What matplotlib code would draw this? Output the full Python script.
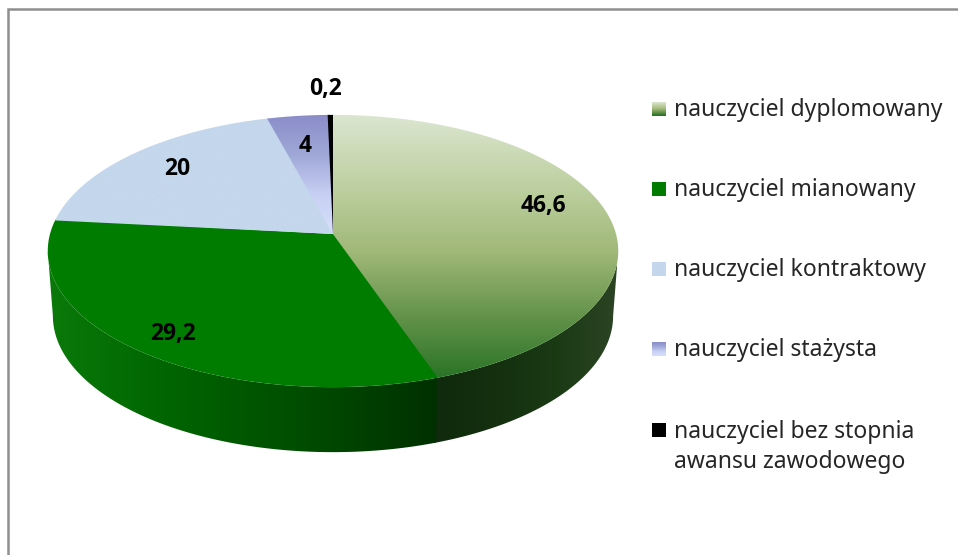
import numpy as np
import matplotlib
matplotlib.use('Agg')
import matplotlib.pyplot as plt
from matplotlib.colors import LinearSegmentedColormap
from matplotlib.patches import Polygon

categories = ['nauczyciel dyplomowany', 'nauczyciel mianowany', 'nauczyciel kontraktowy',
              'nauczyciel stażysta', 'nauczyciel bez stopnia\nawansu zawodowego']
values = [46.6, 29.2, 20, 4, 0.2]
value_labels = ['46,6', '29,2', '20', '4', '0,2']

# look of the picture
label_pos = [(543, 206), (173, 334), (177, 169), (305, 146), (326, 89)]
legend_y = [109, 189, 269, 349, 430]
# the 3d view of the original pulls the slice edges a little off their true angle
edge_skew = [-6.8, 3, 0, -0.5, 0]
top_colors = [['#dbe6d0', '#bfd1a3', '#a0b878', '#5f9048', '#1f6e1f'],
              ['#007c00', '#007c00'],
              ['#c4d7ec', '#c4d7ec'],
              ['#8a8cc8', '#a0a8d8', '#c8d0f4', '#d8e0fc'],
              ['#000000', '#000000']]
top_extent = [(40, 625, 390, 114), (40, 625, 390, 114), (40, 625, 236, 114),
              (40, 625, 236, 114), (40, 625, 236, 114)]
side_colors = [['#0f2a0c', '#14300f', '#1a3a14', '#2c4424'],
               ['#0a7a0a', '#006400', '#004c00', '#003000'],
               ['#c4d7ec', '#c4d7ec'],
               ['#8a8cc8', '#8a8cc8'],
               ['#000000', '#000000']]
CX, CY = 333, 234
SX, AY, P = 283, 134, 0.125
DEPTH = 65


def project(theta, drop=False):
    t = np.radians(theta)
    u, v = np.sin(t), np.cos(t)
    w = 1 + P * v
    x = SX * u / w
    y = -AY * v / w
    if drop:
        return CX + 0.982 * x, CY + y + DEPTH
    return CX + x, CY + y


def gradient(ax, colors, clip, extent, horizontal=False):
    cmap = LinearSegmentedColormap.from_list('g', colors)
    ramp = np.linspace(0, 1, 256)
    ramp = ramp[None, :] if horizontal else ramp[:, None]
    im = ax.imshow(ramp, cmap=cmap, extent=extent, aspect='auto', vmin=0, vmax=1,
                   interpolation='bilinear', zorder=2)
    if clip is not None:
        patch = Polygon(clip, closed=True, transform=ax.transData, fc='none', ec='none')
        ax.add_patch(patch)
        im.set_clip_path(patch)


fig = plt.figure(figsize=(9.58, 5.55), dpi=100)
ax = fig.add_axes([0, 0, 1, 1])

# slice edges from the values
cum = np.cumsum(values) / np.sum(values) * 360
edges = np.concatenate([[0], cum + np.array(edge_skew)])

# rim first, the tops go over it. only the part between the two widest points shows
widest = np.degrees(np.arccos(-P))
for i in range(2):
    # a small overlap so no white seam shows between neighbours
    a = max(edges[i], widest)
    b = min(edges[i + 1] + 1, 360 - widest)
    th = np.linspace(a, b, 200)
    x0, y0 = project(th)
    x1, y1 = project(th, drop=True)
    poly = np.r_[np.c_[x0, y0], np.c_[x1, y1][::-1]]
    left, right = (437, 617) if i == 0 else (48, 437)
    gradient(ax, side_colors[i], poly, (left - 3, right, 460, 100), horizontal=True)

for i in range(len(values)):
    end = edges[i + 1] + (0.5 if i < len(values) - 1 else 0)
    th = np.linspace(edges[i], end, 200)
    x0, y0 = project(th)
    poly = np.r_[[[CX, CY]], np.c_[x0, y0]]
    gradient(ax, top_colors[i], poly, top_extent[i])

for pos, text in zip(label_pos, value_labels):
    ax.text(pos[0], pos[1], text, ha='center', va='center', fontsize=16.5,
            fontweight='bold', family='Open Sans', color='black', zorder=5)

for i, (name, y) in enumerate(zip(categories, legend_y)):
    gradient(ax, top_colors[i], None, (652, 666, y + 7, y - 7))
    ax.text(674, y - 10.5, name, ha='left', va='top', fontsize=16.5, family='Noto Sans',
            color='#262626', linespacing=1.36, zorder=5)

# chart frame, cut off by the crop on the right and at the bottom
ax.plot([8.5, 8.5, 958], [555, 9, 9], color='#8f8f8f', lw=1.8, solid_joinstyle='miter', zorder=1)

ax.set_xlim(0, 958)
ax.set_ylim(555, 0)
ax.axis('off')
fig.savefig('out.png', dpi=100)
